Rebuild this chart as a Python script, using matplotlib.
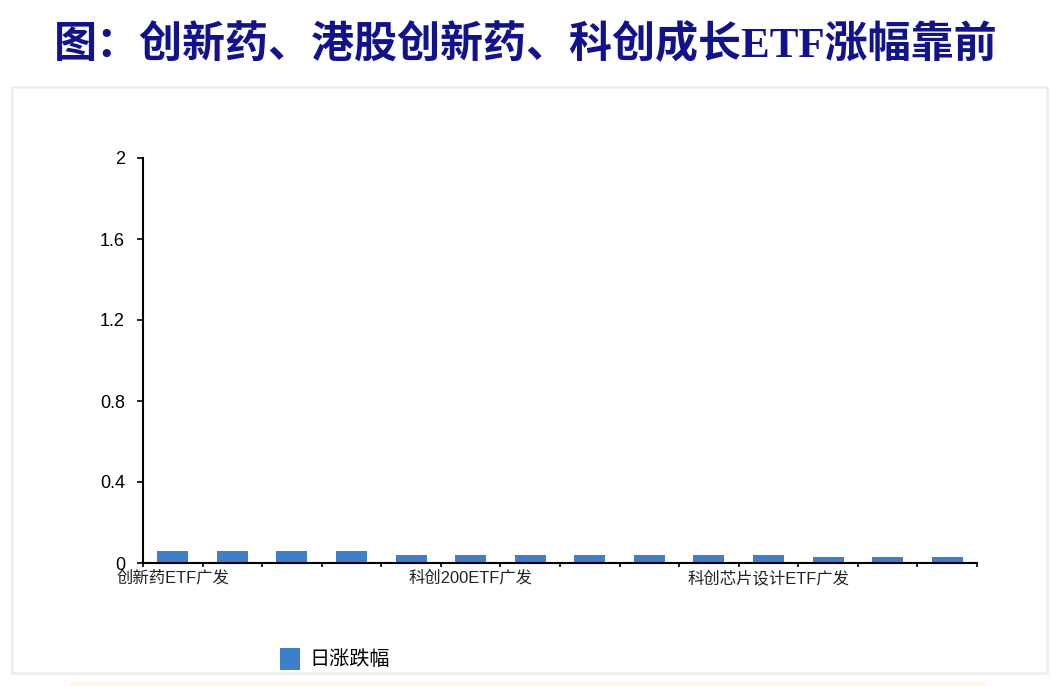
import numpy as np
import matplotlib
matplotlib.use('Agg')
import matplotlib.pyplot as plt
from matplotlib.patches import Rectangle

plt.rcParams['font.family'] = ['Liberation Sans', 'Noto Sans CJK SC', 'DejaVu Sans']

# 数据：日涨跌幅（14只ETF，只显示每5个的名称）
etf_names = ['创新药ETF广发', '', '', '', '',
             '科创200ETF广发', '', '', '', '',
             '科创芯片设计ETF广发', '', '', '']
daily_change = [0.06, 0.06, 0.06, 0.06, 0.04, 0.04, 0.04,
                0.04, 0.04, 0.04, 0.04, 0.03, 0.03, 0.03]
y_ticks = [0, 0.4, 0.8, 1.2, 1.6, 2]
y_tick_labels = ['0', '0.4', '0.8', '1.2', '1.6', '2']

fig = plt.figure(figsize=(10.52, 6.86), dpi=100)

# 外框和底部的浅黄条
fig.patches.append(Rectangle((12/1052, 1-673/686), 1035/1052, 586/686,
                             transform=fig.transFigure, fill=False,
                             edgecolor='#ededed', linewidth=1.8))
fig.patches.append(Rectangle((70/1052, 0), 915/1052, 4/686,
                             transform=fig.transFigure, facecolor='#fcf6e2',
                             edgecolor='none'))

fig.text(0.5, 1-45/686, '图：创新药、港股创新药、科创成长ETF涨幅靠前',
         ha='center', va='center', fontsize=31, fontweight='bold',
         color='#12128a', family=['Liberation Serif', 'Noto Sans CJK SC'])

ax = fig.add_axes([143/1052, 1-563/686, 834/1052, 405/686])
x = np.arange(len(daily_change))
bars = ax.bar(x, daily_change, width=0.52, color='#3d7fc8', label='日涨跌幅')

ax.set_xlim(-0.5, len(daily_change) - 0.5)
ax.set_ylim(0, 2)
ax.set_yticks(y_ticks)
ax.set_yticklabels(y_tick_labels, fontsize=13)

ax.set_xticks(x)
ax.set_xticklabels(etf_names, fontsize=11.8, color='#222222')
ax.tick_params(axis='x', length=0, pad=5)
ax.set_xticks(np.arange(-0.5, len(daily_change), 1), minor=True)
ax.tick_params(axis='x', which='minor', length=3, width=1.2, direction='out')
ax.tick_params(axis='y', length=4, width=1.2, direction='out', pad=9)

for s in ['top', 'right']:
    ax.spines[s].set_visible(False)
ax.spines['left'].set_linewidth(1.5)
ax.spines['bottom'].set_linewidth(1.5)

leg = fig.legend(handles=[bars], labels=['日涨跌幅'], loc='center left',
                 bbox_to_anchor=(262/1052, 1-659/686), frameon=False,
                 handlelength=1.0, handleheight=1.3, handletextpad=0.45,
                 prop={'family': ['Noto Sans CJK SC'], 'size': 14.5})

fig.savefig('out.png', dpi=100)
